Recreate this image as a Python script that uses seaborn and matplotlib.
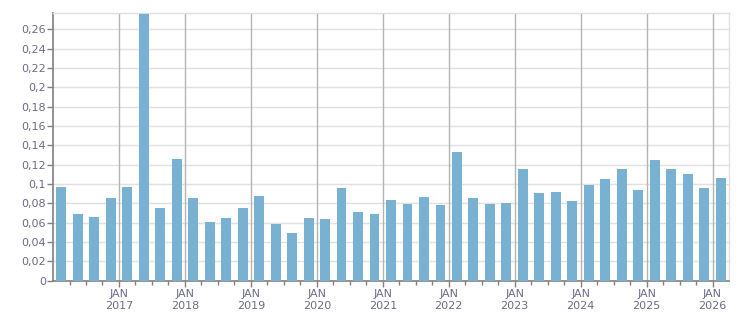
import matplotlib
matplotlib.use("Agg")
import matplotlib.pyplot as plt
import seaborn as sns
import pandas as pd

# quarterly values, 2016 Q1 .. 2026 Q1
quarters = [f"{y} Q{q}" for y in range(2016, 2027) for q in range(1, 5)][:41]
values = [0.097, 0.069, 0.066, 0.086, 0.097, 0.276, 0.075, 0.126, 0.086, 0.061,
          0.065, 0.075, 0.088, 0.059, 0.049, 0.065, 0.064, 0.096, 0.071, 0.069,
          0.083, 0.079, 0.087, 0.078, 0.133, 0.086, 0.079, 0.080, 0.115, 0.091,
          0.092, 0.082, 0.099, 0.105, 0.116, 0.094, 0.125, 0.115, 0.110, 0.096,
          0.106]
years = list(range(2017, 2027))

df = pd.DataFrame({"quarter": quarters, "value": values})

txt = "#6b6b88"
sns.set_style("white")
fig = plt.figure(figsize=(7.51, 3.13), dpi=100)
ax = fig.add_axes([0.0706, 0.1032, 0.9001, 0.8543])

sns.barplot(data=df, x="quarter", y="value", color="#78b1d2", saturation=1,
            width=0.6, linewidth=0, edgecolor="none", ax=ax, zorder=3)

ax.set_xlim(-0.5, len(quarters) - 0.5)
ax.set_ylim(0, 0.2765)

yt = [i * 0.02 for i in range(14)]
ax.set_yticks(yt)
ax.set_yticklabels(["0" if v == 0 else f"{v:.2f}".rstrip("0").replace(".", ",") for v in yt])
ax.yaxis.grid(True, color="#e0e0e0", linewidth=1, zorder=0)

jan_pos = [quarters.index(f"{y} Q1") - 0.5 for y in years]
ax.set_xticks(jan_pos)
ax.set_xticklabels([f"JAN\n{y}" for y in years], linespacing=1.25)
ax.set_xticks([i + 0.5 for i in range(len(quarters) - 1)
               if (i + 0.5) not in jan_pos], minor=True)
for x in jan_pos:
    ax.axvline(x, color="#b4b4b4", linewidth=1, zorder=1)

ax.tick_params(axis="both", which="both", labelsize=8, labelcolor=txt,
               color="#808080", length=4, width=1, direction="out")
ax.tick_params(axis="x", which="major", bottom=True, length=4, pad=2)
ax.tick_params(axis="x", which="minor", bottom=True, length=3)
ax.tick_params(axis="y", left=True, pad=1)
ax.set_xlabel("")
ax.set_ylabel("")

for s in ["left", "bottom"]:
    ax.spines[s].set_color("#808080")
    ax.spines[s].set_linewidth(1.2)
for s in ["top", "right"]:
    ax.spines[s].set_color("#e0e0e0")
    ax.spines[s].set_linewidth(1)

fig.savefig("out.png", dpi=100)
